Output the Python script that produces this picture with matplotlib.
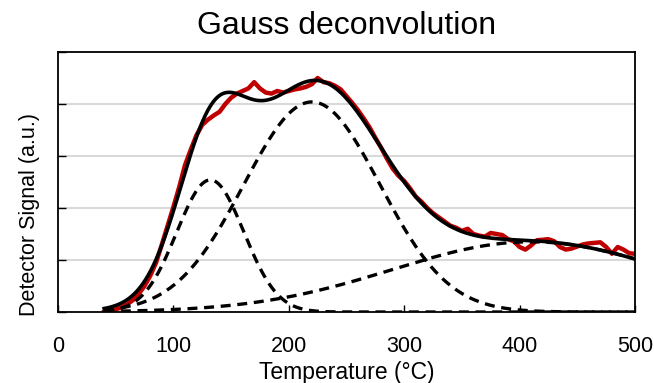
import numpy as np
import matplotlib
matplotlib.use("Agg")
import matplotlib.pyplot as plt

plt.rcParams['font.family'] = ['Liberation Sans', 'DejaVu Sans']

temp_meas = [40, 45, 50, 55, 60, 65, 70, 75, 80, 85, 90, 95, 100, 105, 110, 115, 120, 125,
             130, 135, 140, 145, 150, 155, 160, 165, 170, 175, 180, 185, 190, 195, 200, 205,
             210, 215, 220, 225, 230, 235, 240, 245, 250, 255, 260, 265, 270, 275, 280, 285,
             290, 295, 300, 305, 310, 315, 320, 325, 330, 335, 340, 345, 350, 355, 360, 365,
             370, 375, 380, 385, 390, 395, 400, 405, 410, 415, 420, 425, 430, 435, 440, 445,
             450, 455, 460, 465, 470, 475, 480, 485, 490, 495, 500]
signal_meas = [0.00, 0.02, 0.05, 0.09, 0.15, 0.23, 0.35, 0.50, 0.70, 0.95, 1.30, 1.66, 2.02,
               2.40, 2.82, 3.12, 3.40, 3.60, 3.70, 3.78, 3.85, 4.00, 4.12, 4.20, 4.25, 4.30,
               4.42, 4.30, 4.22, 4.20, 4.25, 4.22, 4.25, 4.28, 4.30, 4.33, 4.38, 4.50, 4.42,
               4.40, 4.35, 4.28, 4.15, 4.02, 3.88, 3.72, 3.55, 3.35, 3.16, 2.95, 2.76, 2.62,
               2.52, 2.38, 2.22, 2.12, 2.00, 1.90, 1.82, 1.74, 1.66, 1.62, 1.56, 1.60, 1.50,
               1.47, 1.45, 1.52, 1.50, 1.48, 1.40, 1.36, 1.25, 1.20, 1.28, 1.38, 1.39, 1.40,
               1.36, 1.25, 1.20, 1.22, 1.26, 1.30, 1.32, 1.33, 1.34, 1.25, 1.12, 1.25, 1.20,
               1.13, 1.12]

# Gaussian components (amplitude, centre, sigma)
peak_amplitudes = [2.54, 4.04, 1.35]
peak_centers = [132, 220, 410]
peak_sigmas = [29, 59, 120]
fit_range = [40, 500]

x_ticks = [0, 100, 200, 300, 400, 500]
y_grid = [1, 2, 3, 4]

fig = plt.figure(figsize=(6.54, 3.83), dpi=100)
ax = fig.add_axes([58/654, 71/383, 577/654, 260/383])

xs = np.linspace(fit_range[0], fit_range[1], 400)
comps = [a * np.exp(-(xs - c) ** 2 / (2 * s ** 2))
         for a, c, s in zip(peak_amplitudes, peak_centers, peak_sigmas)]
total = np.sum(comps, axis=0)

for g in y_grid:
    ax.axhline(g, color='#d9d9d9', lw=1.5, zorder=0)

ax.plot(temp_meas, signal_meas, color='#c00000', lw=3.2, zorder=2)
for comp in comps:
    ax.plot(xs, comp, color='black', lw=2.4, ls=(0, (3.0, 2.0)), zorder=3)
ax.plot(xs, total, color='black', lw=2.6, zorder=4)

ax.set_xlim(0, 500)
ax.set_ylim(0, 5)
ax.set_xticks(x_ticks)
ax.set_xticklabels([str(t) for t in x_ticks])
ax.set_yticks([0] + y_grid + [5])
ax.set_yticklabels([])
ax.tick_params(axis='x', direction='in', length=5, width=1, labelsize=15.5, pad=17)
ax.tick_params(axis='y', direction='in', length=6, width=1)
for sp in ax.spines.values():
    sp.set_linewidth(1.3)
    sp.set_color('black')

ax.set_xlabel('Temperature (°C)', fontsize=16.5, labelpad=3)
ax.set_ylabel('Detector Signal (a.u.)', fontsize=15.5)
ax.yaxis.set_label_coords(-0.031, 0.375)
ax.set_title('Gauss deconvolution', fontsize=23, pad=13)

fig.savefig('out.png', dpi=100)
